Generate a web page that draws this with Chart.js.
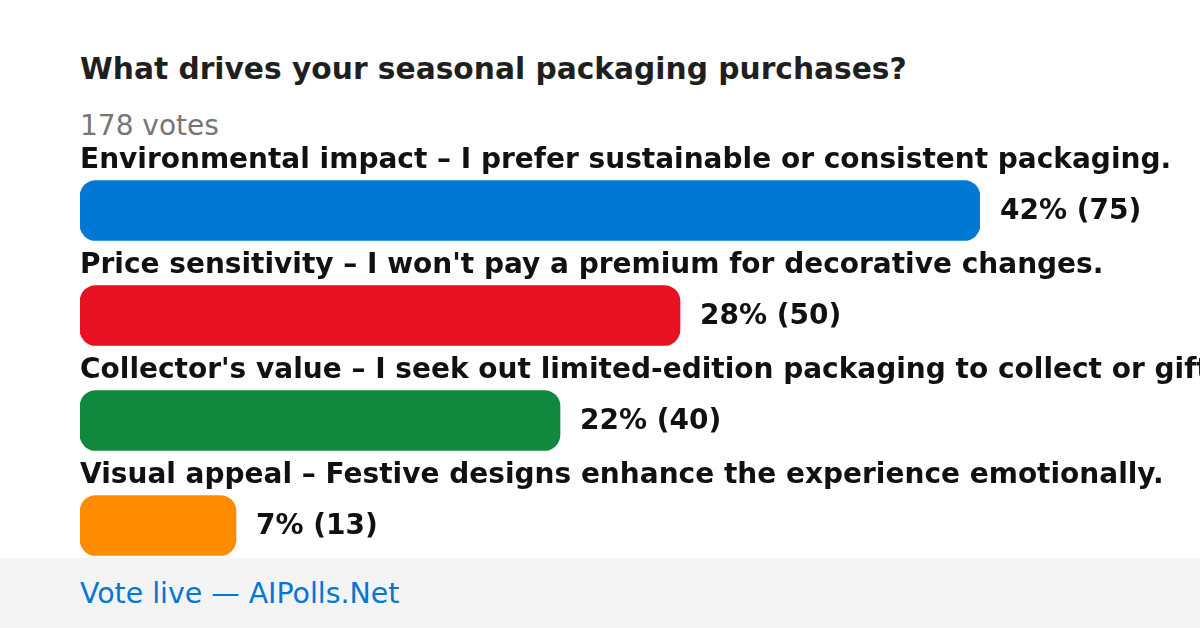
<!DOCTYPE html>
<html>
<head>
<meta charset="utf-8">
<script src="https://cdn.jsdelivr.net/npm/chart.js@4"></script>
<style>
    html, body { margin: 0; padding: 0; background: #fff; }
    body { width: 1200px; height: 628px; position: relative; overflow: hidden; font-family: "DejaVu Sans", sans-serif; }
    #title { position: absolute; left: 80px; top: 51px; font-size: 29.7px; font-weight: bold; color: #1f1f1f; white-space: nowrap; }
    #votes { position: absolute; left: 80px; top: 109px; font-size: 28px; color: #767676; white-space: nowrap; }
    #footer { position: absolute; left: 0; top: 558px; width: 1200px; height: 70px; background: #f4f4f4; }
    #footer span { position: absolute; left: 80px; top: 19px; font-size: 28.4px; color: #0078d4; white-space: nowrap; }
    #wrap { position: absolute; left: 0; top: 0; width: 1200px; height: 628px; }
</style>
</head>
<body>
<div id="footer"><span>Vote live — AIPolls.Net</span></div>
<div id="title">What drives your seasonal packaging purchases?</div>
<div id="votes">178 votes</div>
<div id="wrap"><canvas id="pollChart" width="1200" height="628"></canvas></div>
<script>
const categories = [
    'Environmental impact – I prefer sustainable or consistent packaging.',
    "Price sensitivity – I won't pay a premium for decorative changes.",
    "Collector's value – I seek out limited-edition packaging to collect or gift.",
    'Visual appeal – Festive designs enhance the experience emotionally.'
];
const voteCounts = [75, 50, 40, 13];
const percents = [42, 28, 22, 7];
const barColors = ['#0078d4', '#e81123', '#10893e', '#ff8c00'];

// draws the option text above each bar and the "42% (75)" label to its right
const pollLabels = {
    id: 'pollLabels',
    afterDatasetsDraw(chart) {
        const ctx = chart.ctx;
        const bars = chart.getDatasetMeta(0).data;
        ctx.save();
        ctx.font = 'bold 28px "DejaVu Sans"';
        ctx.fillStyle = '#111111';
        ctx.textAlign = 'left';
        ctx.textBaseline = 'alphabetic';
        bars.forEach((bar, i) => {
            ctx.fillText(categories[i], bar.base, bar.y - 43);
            ctx.fillText(percents[i] + '% (' + voteCounts[i] + ')', bar.x + 20, bar.y + 8);
        });
        ctx.restore();
    }
};

new Chart(document.getElementById('pollChart'), {
    type: 'bar',
    data: {
        labels: categories,
        datasets: [{
            data: voteCounts,
            backgroundColor: barColors,
            borderRadius: 16,
            borderSkipped: false,
            barThickness: 60
        }]
    },
    options: {
        indexAxis: 'y',
        responsive: false,
        animation: false,
        layout: { padding: { left: 80, right: 220, top: 158, bottom: 50 } },
        scales: {
            x: { display: false, min: 0, max: Math.max(...voteCounts) },
            y: { display: false }
        },
        plugins: {
            legend: { display: false },
            tooltip: { enabled: false }
        }
    },
    plugins: [pollLabels]
});
</script>
</body>
</html>
